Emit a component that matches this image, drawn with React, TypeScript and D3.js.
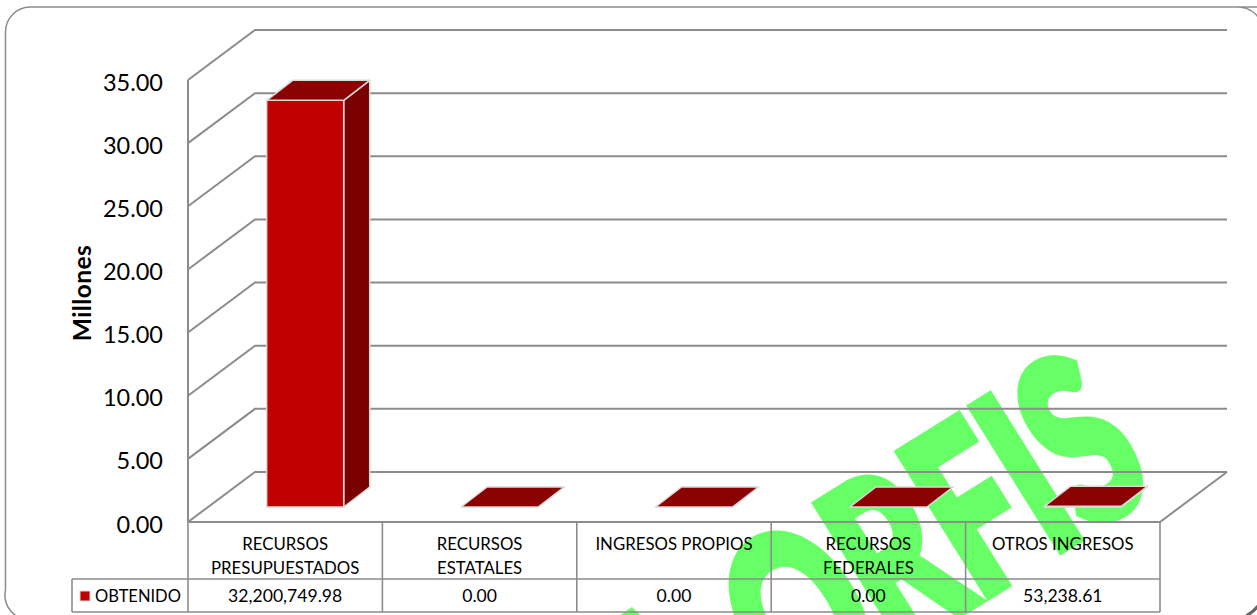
import React from "react";
import * as d3 from "d3";

const categories = [["RECURSOS", "PRESUPUESTADOS"], ["RECURSOS", "ESTATALES"], ["INGRESOS PROPIOS"], ["RECURSOS", "FEDERALES"], ["OTROS INGRESOS"]];
const values = [32200749.98, 0, 0, 0, 53238.61];
const valueLabels = ["32,200,749.98", "0.00", "0.00", "0.00", "53,238.61"];
const yTicks = [0, 5, 10, 15, 20, 25, 30, 35];
const seriesName = "OBTENIDO";
const axisTitle = "Millones";
const watermark = "ORFIS";

const FONT = "Lato, 'Noto Sans', sans-serif";
const GRID = "#8c8c8c";

export default function App() {
  const x0 = 188, x1 = 1160, dx = 67, dy = -50;
  const y = d3.scaleLinear().domain([0, 35]).range([522, 80]);
  const band = d3.scaleBand().domain(d3.range(5).map(String)).range([x0, x1]);
  const barW = 77, bdx = 26, bdy = -20, inset = 15;
  return (
    <svg width={1257} height={615} style={{ position: "absolute", left: 0, top: 0, background: "#fff" }} fontFamily={FONT}>
      {/* watermark sits behind the chart */}
      <g transform="translate(1054,552) rotate(-32)" fill="#66ff66">
        <text
          transform="scale(0.88,1.32)"
          x={140}
          textAnchor="end"
          fontFamily="Lato, sans-serif"
          fontWeight={700}
          fontSize={172}
          stroke="#66ff66"
          strokeWidth={11}
          strokeLinejoin="miter"
          vectorEffect="non-scaling-stroke"
        >{watermark}</text>
      </g>
      <polygon points="619,616 632,607 641,616" fill="#66ff66" />
      <path d="M1290,7H1238A25,25 0 0 1 1263,32M1238,7H30A25,25 0 0 0 5.5,32V590A25,25 0 0 0 30,620" fill="none" stroke="#8c8c8c" strokeWidth={1.5} />
      <path d="M1258,606A40,40 0 0 1 1246,616" fill="none" stroke="#666" strokeWidth={3} />
      <g fill="none" stroke={GRID} strokeWidth={2}>
        {yTicks.map((t) => (
          <path key={t} d={`M${x0},${y(t)}L${x0 + dx},${y(t) + dy}H${x1 + dx}`} />
        ))}
        <path d={`M${x0},${y(35)}V${y(0)}`} />
        <path d={`M${x0},${y(0)}H${x1}L${x1 + dx},${y(0) + dy}`} />
      </g>
      <g fontSize={23.5} textAnchor="end" fill="#000">
        {yTicks.map((t) => (
          <text key={t} x={163} y={y(t) + 10.5}>{d3.format(".2f")(t)}</text>
        ))}
      </g>
      <text transform="translate(90.5,293) rotate(-90)" textAnchor="middle" fontSize={24.5} letterSpacing={0.4} fontWeight={700}>{axisTitle}</text>
      <g>
        {values.map((v, i) => {
          const xs = band(String(i))! + band.bandwidth() / 2 + 20 - barW / 2;
          const base = y(0) - inset;
          const top = base - (y(0) - y(v / 1e6));
          const stroke = "#d9d9d9";
          return (
            <g key={i} stroke={stroke} strokeWidth={1.5} strokeLinejoin="round">
              <path d={`M${xs + barW},${top}L${xs + barW + bdx},${top + bdy}V${base + bdy}L${xs + barW},${base}Z`} fill="#7a0000" />
              <rect x={xs} y={top} width={barW} height={base - top} fill="#c00000" />
              <path d={`M${xs},${top}L${xs + bdx},${top + bdy}H${xs + barW + bdx}L${xs + barW},${top}Z`} fill="#8b0000" />
            </g>
          );
        })}
      </g>
      <g fill="none" stroke={GRID} strokeWidth={1.6}>
        <path d="M188,522V612M72,579H1160M72,612H1160M72,579V612M1160,522V612" />
        {d3.range(1, 5).map((i) => (
          <path key={i} d={`M${band(String(i))},522V612`} />
        ))}
      </g>
      <rect x={80} y={591} width={10} height={10} fill="#c00000" stroke="#d9d9d9" strokeWidth={1} />
      <text x={95} y={602} fontSize={16.5}>{seriesName}</text>
      <g textAnchor="middle" fill="#000">
        {categories.map((lines, i) => {
          const cx = band(String(i))! + band.bandwidth() / 2;
          return (
            <g key={i}>
              {lines.map((l, j) => (
                <text key={j} x={cx} y={550 + j * 24} fontSize={16.8}>{l}</text>
              ))}
              <text x={cx} y={602} fontSize={17.6}>{valueLabels[i]}</text>
            </g>
          );
        })}
      </g>
    </svg>
  );
}
